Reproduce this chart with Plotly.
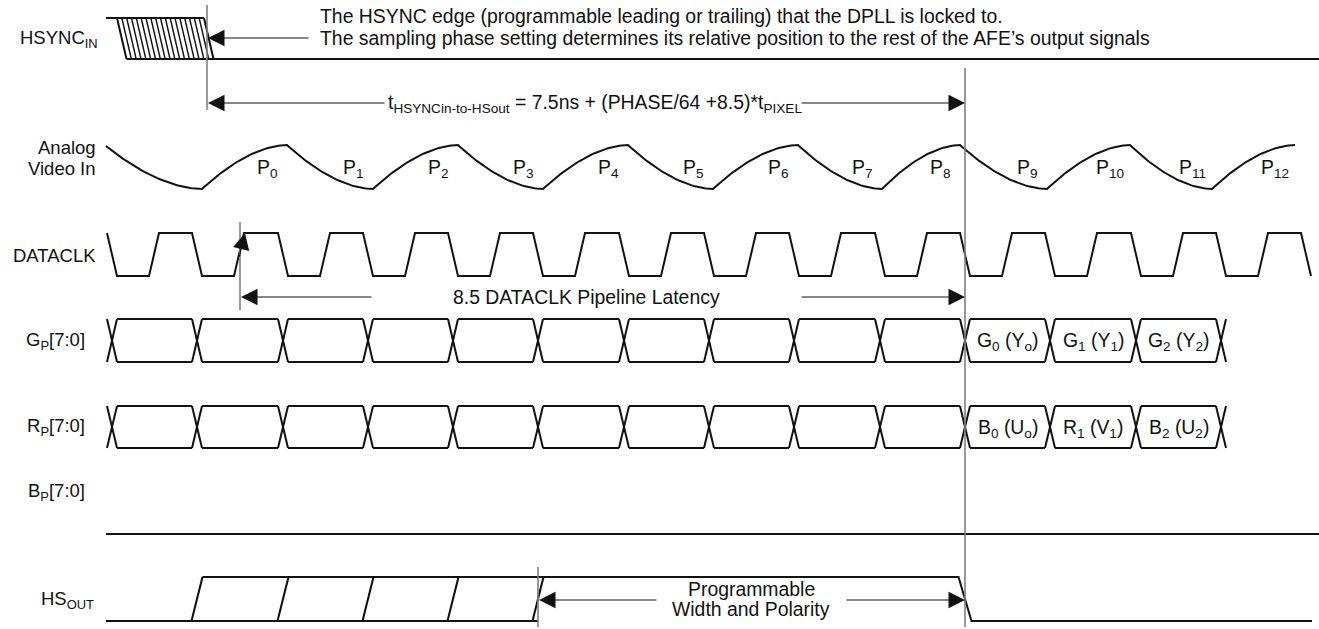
import plotly.graph_objects as go

# ---------------- data (times, in drawing time units) ----------------
signal_labels = ["HSYNC<sub>IN</sub>", "Analog", "Video In", "DATACLK",
                 "G<sub>P</sub>[7:0]", "R<sub>P</sub>[7:0]", "B<sub>P</sub>[7:0]", "HS<sub>OUT</sub>"]

hsync_start = 106
hsync_edge_window = [117, 204]          # earliest / latest falling edge (top of the hatched edge)
hsync_locked_edge = 207

analog_corners = [106, 202, 287, 373, 458, 543, 628, 713, 798, 882, 960, 1047, 1130, 1212, 1295]
pixel_labels = ["P<sub>%d</sub>" % i for i in range(13)]

clk_falls = [112, 197, 283, 368, 453, 538, 624, 709, 794, 880, 965, 1050, 1136, 1221, 1306]
clk_rises = [154, 239, 325, 410, 495, 580, 666, 751, 836, 922, 1007, 1092, 1178, 1263]

bus_transitions = [112, 197, 283, 368, 453, 538, 624, 709, 794, 880, 965, 1050, 1136, 1221]
g_cell_labels = [""] * 10 + ["G<sub>0</sub> (Y<sub>o</sub>)", "G<sub>1</sub> (Y<sub>1</sub>)", "G<sub>2</sub> (Y<sub>2</sub>)"]
r_cell_labels = [""] * 10 + ["B<sub>0</sub> (U<sub>o</sub>)", "R<sub>1</sub> (V<sub>1</sub>)", "B<sub>2</sub> (U<sub>2</sub>)"]

hsout_rise_options = [197, 283, 368, 453, 538]
hsout_fall = 965

latency_start = 240
latency_end = 965

note_lines = ["The HSYNC edge (programmable leading or trailing) that the DPLL is locked to.",
              "The sampling phase setting determines its relative position to the rest of the AFE\u2019s output signals"]
formula_text = "t<sub>HSYNCin-to-HSout</sub> = 7.5ns + (PHASE/64 +8.5)*t<sub>PIXEL</sub>"
latency_text = "8.5 DATACLK Pipeline Latency"
width_lines = ["Programmable", "Width and Polarity"]

# ---------------- layout / style ----------------
W, H = 1319, 629
X_END = 1319
FONT = "Arial, Liberation Sans, sans-serif"
FS = 19.4
FS_LAB = 18.5
SIG = dict(color="#111111", width=2)
HATCH = dict(color="#111111", width=1.4)
REF = dict(color="#7f7f7f", width=1.6)
EDGE = 5          # half width of a transition
SLANT = 5.5       # half horizontal extent of HS_OUT edges
CURVE_P = 1.8

lane = dict(hs_top=18, hs_bot=59, an_top=145, an_bot=189, clk_top=233, clk_bot=276,
            g_top=319, g_bot=362, r_top=406, r_bot=448, b=534, ho_top=577, ho_bot=621)
label_pos = [(100, 39), (98, 147), (98, 168), (98, 255), (87, 341), (87, 427), (87, 492), (96, 600)]

fig = go.Figure()


def add_lines(xs, ys, line):
    fig.add_trace(go.Scatter(x=xs, y=ys, mode="lines", line=line, hoverinfo="skip", showlegend=False))


# HSYNC_IN outline
dx_edge = 9.5
xs, ys = [], []
xs += [hsync_start, hsync_edge_window[1], None]
ys += [lane["hs_top"], lane["hs_top"], None]
xs += [hsync_edge_window[0] + dx_edge, X_END, None]
ys += [lane["hs_bot"], lane["hs_bot"], None]
for x0 in hsync_edge_window:
    xs += [x0, x0 + dx_edge, None]
    ys += [lane["hs_top"], lane["hs_bot"], None]
add_lines(xs, ys, SIG)
# hatching of the possible edge positions
n_hatch = 18
xs, ys = [], []
for i in range(1, n_hatch):
    x0 = hsync_edge_window[0] + (hsync_edge_window[1] - hsync_edge_window[0]) * i / n_hatch
    xs += [x0, x0 + dx_edge, None]
    ys += [lane["hs_top"], lane["hs_bot"], None]
add_lines(xs, ys, HATCH)

# Analog video
xs, ys = [], []
for i in range(len(analog_corners) - 1):
    a, b = analog_corners[i], analog_corners[i + 1]
    ya = lane["an_top"] + 1 if i == 0 else (lane["an_top"] if i % 2 == 0 else lane["an_bot"])
    yb = lane["an_bot"] if i % 2 == 0 else lane["an_top"]
    for k in range(41):
        u = k / 40
        xs.append(a + (b - a) * u)
        ys.append(ya + (yb - ya) * (1 - (1 - u) ** CURVE_P))
add_lines(xs, ys, SIG)
for i, lab in enumerate(pixel_labels):
    fig.add_annotation(x=analog_corners[i + 2] - 20, y=168, text=lab, showarrow=False,
                       font=dict(family=FONT, size=FS, color="#111"), xanchor="center", yanchor="middle")

# DATACLK
events = sorted([(f, "f") for f in clk_falls] + [(r, "r") for r in clk_rises])
xs, ys = [], []
for t, kind in events:
    if kind == "f":
        xs += [t - EDGE, t + EDGE]
        ys += [lane["clk_top"], lane["clk_bot"]]
    else:
        xs += [t - EDGE, t + EDGE]
        ys += [lane["clk_bot"], lane["clk_top"]]
add_lines(xs, ys, SIG)


# Buses
def bus(top, bot, labels):
    xs, ys = [], []
    for i, c in enumerate(bus_transitions):
        xs += [c - EDGE, c + EDGE, None, c - EDGE, c + EDGE, None]
        ys += [top, bot, None, bot, top, None]
        if i < len(bus_transitions) - 1:
            n = bus_transitions[i + 1]
            xs += [c + EDGE, n - EDGE, None, c + EDGE, n - EDGE, None]
            ys += [top, top, None, bot, bot, None]
            if labels[i]:
                fig.add_annotation(x=(c + n) / 2, y=(top + bot) / 2 + 1, text=labels[i], showarrow=False,
                                   font=dict(family=FONT, size=FS, color="#111"))
    add_lines(xs, ys, SIG)


bus(lane["g_top"], lane["g_bot"], g_cell_labels)
bus(lane["r_top"], lane["r_bot"], r_cell_labels)

# B_P
add_lines([hsync_start, X_END], [lane["b"], lane["b"]], SIG)

# HS_OUT
xs, ys = [], []
xs += [hsync_start, hsout_rise_options[-1], None]
ys += [lane["ho_bot"], lane["ho_bot"], None]
xs += [hsout_rise_options[0] + SLANT, hsout_fall - SLANT - 1, hsout_fall + SLANT + 1, 1312, None]
ys += [lane["ho_top"], lane["ho_top"], lane["ho_bot"], lane["ho_bot"], None]
for r in hsout_rise_options:
    xs += [r - SLANT, r + SLANT, None]
    ys += [lane["ho_bot"], lane["ho_top"], None]
add_lines(xs, ys, SIG)

# reference verticals
for x, y0, y1 in [(hsync_locked_edge, 5, 110), (latency_end, 68, 627), (latency_start, 222, 310),
                  (hsout_rise_options[-1], 567, 627)]:
    add_lines([x, x], [y0, y1], REF)

# signal labels
for lab, (x, y) in zip(signal_labels, label_pos):
    fig.add_annotation(x=x, y=y, text=lab, showarrow=False, xanchor="right", yanchor="middle",
                       align="right", font=dict(family=FONT, size=FS_LAB, color="#111"))

# notes
for i, t in enumerate(note_lines):
    fig.add_annotation(x=318, y=16 + 22 * i, text=t, showarrow=False, xanchor="left", yanchor="middle",
                       font=dict(family=FONT, size=FS, color="#111"))
fig.add_annotation(x=595, y=103, text=formula_text, showarrow=False, font=dict(family=FONT, size=FS, color="#111"))
fig.add_annotation(x=586, y=297, text=latency_text, showarrow=False, font=dict(family=FONT, size=FS, color="#111"))
for i, t in enumerate(width_lines):
    fig.add_annotation(x=751, y=589 + 20 * i, text=t, showarrow=False, font=dict(family=FONT, size=FS, color="#111"))


def arrow(x_tail, x_head, y):
    fig.add_annotation(x=x_head, y=y, ax=x_tail, ay=y, axref="x", ayref="y", xref="x", yref="y",
                       showarrow=True, arrowhead=2, arrowsize=3, arrowwidth=1.1, arrowcolor="#111", text="")


arrow(310, hsync_locked_edge + 1, 38)
arrow(386, hsync_locked_edge + 1, 103)
arrow(800, latency_end, 103)
arrow(373, latency_start + 1, 297)
arrow(800, latency_end, 297)
arrow(658, hsout_rise_options[-1] + 1, 600)
arrow(845, latency_end, 600)
fig.add_annotation(x=245, y=233, ax=239, ay=258, axref="x", ayref="y", xref="x", yref="y",
                   showarrow=True, arrowhead=2, arrowsize=3, arrowwidth=1.1, arrowcolor="#111", text="")

fig.update_layout(width=W, height=H, margin=dict(l=0, r=0, t=0, b=0), autosize=False,
                  paper_bgcolor="white", plot_bgcolor="white", showlegend=False,
                  xaxis=dict(range=[0, W], visible=False, fixedrange=True),
                  yaxis=dict(range=[H, 0], visible=False, fixedrange=True))
fig.write_html("out.html", config={"displayModeBar": False})

# remove the browser's default page margin so the drawing sits at the window origin
with open("out.html", "r", encoding="utf-8") as f:
    html = f.read()
html = html.replace("<body>", '<body style="margin:0;padding:0;overflow:hidden">', 1)
with open("out.html", "w", encoding="utf-8") as f:
    f.write(html)
